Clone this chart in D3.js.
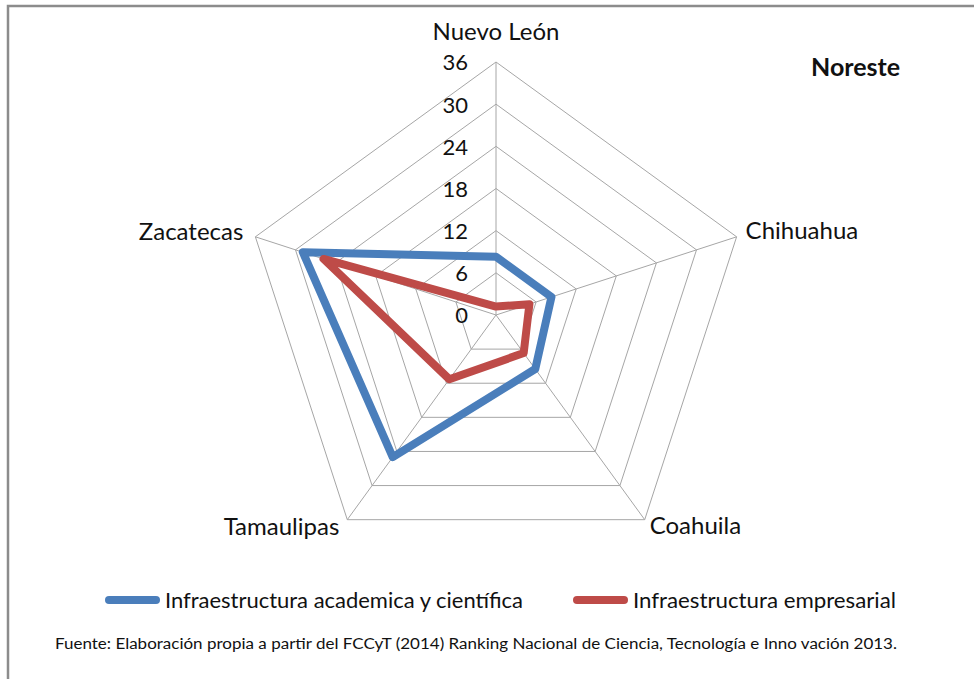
<!DOCTYPE html>
<html>
<head>
<meta charset="utf-8">
<script src="https://cdn.jsdelivr.net/npm/d3@7"></script>
<style>
  body { margin: 0; background: #fff; }
  text { font-family: Lato, "Open Sans", sans-serif; fill: #111; }
</style>
</head>
<body>
<svg width="974" height="679"></svg>
<script>
const categories = ["Nuevo León", "Chihuahua", "Coahuila", "Tamaulipas", "Zacatecas"]
const academica = [8.3, 8.3, 9.5, 25, 28.9]
const empresarial = [1.2, 5, 6.7, 11.3, 25.8]
const ticks = [0, 6, 12, 18, 24, 30, 36]
const seriesNames = ["Infraestructura academica y científica", "Infraestructura empresarial"]
const colors = ["#4a7ebb", "#be4b48"]

const cx = 496, cy = 315, radius = 253
const maxValue = 36

const svg = d3.select('svg')

// marco
svg.append('rect')
  .attr('x', 8).attr('y', 6)
  .attr('width', 1100).attr('height', 800)
  .attr('fill', 'none')
  .attr('stroke', '#8c8c8c')
  .attr('stroke-width', 2.5)

const rScale = d3.scaleLinear()
  .domain([0, maxValue])
  .range([0, radius])

const angle = (i) => i * 2 * Math.PI / categories.length
const point = (i, v) => [cx + rScale(v) * Math.sin(angle(i)), cy - rScale(v) * Math.cos(angle(i))]

const chart = svg.append('g')

// rejilla
chart.selectAll('.ring')
  .data(ticks.slice(1))
  .enter()
  .append('polygon')
  .attr('points', (t) => categories.map((c, i) => point(i, t).join(',')).join(' '))
  .attr('fill', 'none')
  .attr('stroke', '#a6a6a6')
  .attr('stroke-width', 1)

chart.selectAll('.spoke')
  .data(categories)
  .enter()
  .append('line')
  .attr('x1', cx).attr('y1', cy)
  .attr('x2', (d, i) => point(i, maxValue)[0])
  .attr('y2', (d, i) => point(i, maxValue)[1])
  .attr('stroke', '#a6a6a6')
  .attr('stroke-width', 1)

// etiquetas del eje
chart.selectAll('.tick')
  .data(ticks)
  .enter()
  .append('text')
  .attr('x', cx - 28)
  .attr('y', (t) => cy - rScale(t))
  .attr('dy', '0.38em')
  .attr('text-anchor', 'end')
  .style('font-size', '22px')
  .text((t) => t)

// categorias
const labelPos = [
  { dx: 0, dy: -30, anchor: 'middle' },
  { dx: 9, dy: -6, anchor: 'start' },
  { dx: 5, dy: 6, anchor: 'start' },
  { dx: -8, dy: 7, anchor: 'end' },
  { dx: -12, dy: -5, anchor: 'end' }
]
chart.selectAll('.cat')
  .data(categories)
  .enter()
  .append('text')
  .attr('x', (d, i) => point(i, maxValue)[0] + labelPos[i].dx)
  .attr('y', (d, i) => point(i, maxValue)[1] + labelPos[i].dy)
  .attr('dy', '0.35em')
  .attr('text-anchor', (d, i) => labelPos[i].anchor)
  .style('font-size', '24px')
  .text((d) => d)

// series
const line = d3.line().curve(d3.curveLinearClosed)
;[academica, empresarial].forEach((values, s) => {
  chart.append('path')
    .attr('d', line(values.map((v, i) => point(i, v))))
    .attr('fill', 'none')
    .attr('stroke', colors[s])
    .attr('stroke-width', 8)
    .attr('stroke-linejoin', 'round')
})

svg.append('text')
  .attr('x', 811)
  .attr('y', 76)
  .style('font-size', '25px')
  .style('font-weight', 'bold')
  .text('Noreste')

// leyenda
const legendX = [105, 573]
const legendW = [358, 263]
seriesNames.forEach((name, s) => {
  svg.append('line')
    .attr('x1', legendX[s] + 4).attr('x2', legendX[s] + 51)
    .attr('y1', 600).attr('y2', 600)
    .attr('stroke', colors[s])
    .attr('stroke-width', 8)
    .attr('stroke-linecap', 'round')
  svg.append('text')
    .attr('x', legendX[s] + 60)
    .attr('y', 608)
    .attr('textLength', legendW[s])
    .attr('lengthAdjust', 'spacingAndGlyphs')
    .style('font-size', '21px')
    .text(name)
})

svg.append('text')
  .attr('x', 55)
  .attr('y', 649)
  .attr('textLength', 842)
  .attr('lengthAdjust', 'spacingAndGlyphs')
  .style('font-size', '14.5px')
  .text('Fuente: Elaboración propia a partir del FCCyT (2014) Ranking Nacional de Ciencia, Tecnología e Inno vación 2013.')
</script>
</body>
</html>
